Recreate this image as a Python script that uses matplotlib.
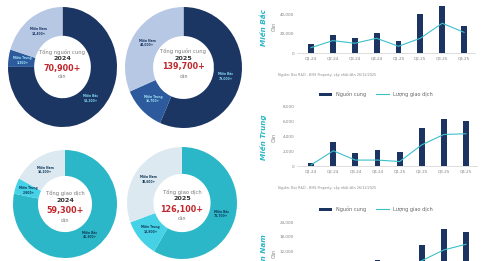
import matplotlib
matplotlib.use('Agg')
import matplotlib.pyplot as plt
from matplotlib.patches import Patch
from matplotlib.lines import Line2D
import numpy as np

plt.rcParams['font.family'] = ['DejaVu Sans']

W, H, DPI = 497, 261, 100

# ---------------- data ----------------
regions = ['Miền Bắc', 'Miền Trung', 'Miền Nam']
supply_2024 = [53200, 3300, 14400]
supply_2025 = [79000, 16700, 44000]
trans_2024 = [46300, 2800, 10200]
trans_2025 = [73700, 13800, 38600]

quarters = ['Q1.24', 'Q2.24', 'Q3.24', 'Q4.24', 'Q1.25', 'Q2.25', 'Q3.25', 'Q4.25']
bac_supply = [9900, 19100, 15400, 20800, 13000, 40700, 48900, 27700]
bac_trans = [5800, 13000, 10300, 15400, 7200, 15400, 30800, 21500]
trung_supply = [450, 3300, 1700, 2150, 1850, 5100, 6350, 6100]
trung_trans = [150, 2050, 800, 800, 600, 2850, 4250, 4350]
nam_supply = [3000, 5000, 4000, 8600, 2500, 14700, 21100, 20200]
nam_trans = [2000, 3500, 3000, 5000, 3000, 8300, 12700, 15000]

bac_ticks = [0, 20000, 40000]
trung_ticks = [0, 2000, 4000, 6000, 8000]
nam_ticks = [12000, 18000, 24000]  # lower ticks fall outside the visible image

SOURCE = 'Nguồn: Bat R&D - BHS Property; cập nhật đến 26/12/2025'

# ---------------- style ----------------
SUP_COLORS = ['#1c3664', '#2c5a9c', '#b7c8e4']
SUP_LABEL = ['#7fd6f2', '#9fe4f7', '#1c3664']
TR_COLORS = ['#2bb7c7', '#45d2e6', '#dde9f1']
TR_LABEL = ['#123a5a', '#123a5a', '#123a5a']
BAR = '#1b3461'
LINE = '#3cc0cc'
TEAL = '#2bb7c7'

fig = plt.figure(figsize=(W / DPI, H / DPI), dpi=DPI)
fig.patch.set_facecolor('white')


def ax_px(x0, y0, x1, y1):
    return fig.add_axes([x0 / W, 1 - y1 / H, (x1 - x0) / W, (y1 - y0) / H])


def ftext(x, y, s, **kw):
    fig.text(x / W, 1 - y / H, s, ha='center', va='center', **kw)


def donut(box, values, colors, lcolors, title, year, ys):
    ax = ax_px(*box)
    ax.pie(values, colors=colors, startangle=90, counterclock=False, radius=1,
           wedgeprops=dict(width=0.48, edgecolor='none'))
    ax.set_aspect('auto')
    ax.set_xlim(-1, 1)
    ax.set_ylim(-1, 1)
    ax.axis('off')
    tot = sum(values)
    cum = 0
    for v, name, c in zip(values, regions, lcolors):
        mid = cum + v / 2
        cum += v
        ang = np.deg2rad(90 - 360 * mid / tot)
        ax.text(0.74 * np.cos(ang), 0.74 * np.sin(ang), f'{name}\n{v:,}+',
                ha='center', va='center', fontsize=2.2, fontweight='bold',
                color=c, linespacing=1.1)
    cx = (box[0] + box[2]) / 2
    ftext(cx, ys[0], title, fontsize=3.8, color='#7a7a7a')
    ftext(cx, ys[1], year, fontsize=4.6, color='#333333', fontweight='bold')
    ftext(cx, ys[2], f'{tot:,}+', fontsize=5.8, color='#c0272d', fontweight='bold')
    ftext(cx, ys[3], 'căn', fontsize=3.4, color='#7a7a7a')


donut((8, 7, 117, 127), supply_2024, SUP_COLORS, SUP_LABEL,
      'Tổng nguồn cung', '2024', (52, 58.5, 68, 77))
donut((125, 7, 242, 128), supply_2025, SUP_COLORS, SUP_LABEL,
      'Tổng nguồn cung', '2025', (51, 58, 67, 77))
donut((13, 150, 117, 258), trans_2024, TR_COLORS, TR_LABEL,
      'Tổng giao dịch', '2024', (193, 200.5, 211, 220))
donut((127, 147, 237, 259), trans_2025, TR_COLORS, TR_LABEL,
      'Tổng giao dịch', '2025', (192, 199, 209.5, 218))


def bar_chart(box, supply, trans, ymax, ticks, title, title_y, can_y, show_x=True):
    ax = ax_px(*box)
    x = np.arange(len(quarters))
    ax.bar(x, supply, width=0.27, color=BAR, zorder=2)
    ax.plot(x, trans, color=LINE, lw=0.8, zorder=3)
    ax.set_xlim(-0.64, 7.5)
    ax.set_ylim(0, ymax)
    ax.set_yticks(ticks)
    ax.set_yticklabels([f'{t:,}' for t in ticks])
    ax.set_xticks(x)
    ax.set_xticklabels(quarters if show_x else [])
    for s in ['top', 'right', 'left']:
        ax.spines[s].set_visible(False)
    ax.spines['bottom'].set_color('#d0d0d0')
    ax.spines['bottom'].set_linewidth(0.5)
    ax.tick_params(axis='both', length=0, labelsize=3.0, colors='#808080')
    ax.tick_params(axis='x', pad=2.2)
    ax.tick_params(axis='y', pad=2.0)
    ax.patch.set_alpha(0)
    ftext(264, title_y, title, fontsize=5.2, color=TEAL, fontweight='bold',
          fontstyle='italic', rotation=90)
    ftext(274, can_y, 'Căn', fontsize=3.4, color='#808080', rotation=90)
    return ax


bar_chart((297, 2.6, 475, 53.3), bac_supply, bac_trans, 52000, bac_ticks,
          'Miền Bắc', 28, 26)
bar_chart((297, 106.7, 477, 166), trung_supply, trung_trans, 8000, trung_ticks,
          'Miền Trung', 137, 137)
bar_chart((297, 222.3, 477, 281), nam_supply, nam_trans, 24000, nam_ticks,
          'Miền Nam', 255, 253, show_x=False)

for y in (75, 188):
    fig.text(278 / W, 1 - y / H, SOURCE, ha='left', va='center',
             fontsize=2.4, color='#8a8a8a')

handles = [Patch(facecolor=BAR, edgecolor='none'),
           Line2D([0], [0], color=LINE, lw=0.8)]
labels = ['Nguồn cung', 'Lượng giao dịch']
for y in (94, 209):
    fig.legend(handles, labels, loc='center', bbox_to_anchor=(376 / W, 1 - y / H),
               ncol=2, frameon=False, fontsize=3.6, handlelength=2.7,
               handleheight=0.6, handletextpad=0.8, columnspacing=1.9,
               labelcolor='#666666', borderpad=0)

fig.savefig('out.png', dpi=DPI, facecolor='white')
